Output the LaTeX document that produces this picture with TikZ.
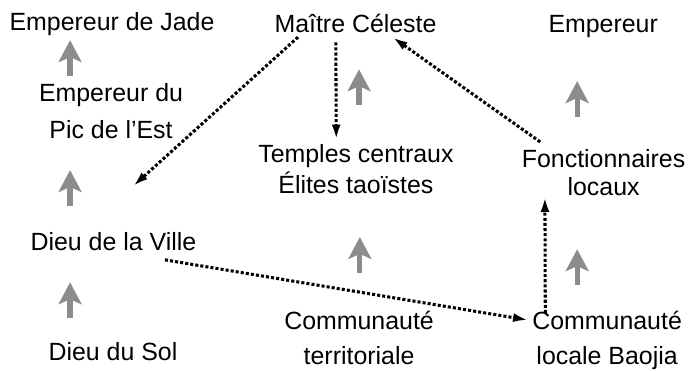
\documentclass[tikz,border=0pt]{standalone}
\usepackage{fontspec}
\setmainfont{Liberation Sans}
\usetikzlibrary{arrows.meta, positioning, calc}
\definecolor{arrgray}{RGB}{140,140,140}

\begin{document}
\begin{tikzpicture}[>=latex, font=\fontsize{18}{22}\selectfont,
    dotarr/.style={-{Latex[length=11pt,width=6.5pt]}, line width=2.2pt, dash pattern=on 2.2pt off 1.5pt},
    grayup/.style={-{Stealth[length=15.8pt,width=16.5pt,inset=3.6pt]}, line width=3.8pt, draw=arrgray}]
    \useasboundingbox (0,0) rectangle (17.5,-9.398);

    \node[anchor=base] (jade) at (2.845,-0.787) {Empereur de Jade};
    \node[anchor=base] (celeste) at (9.03,-0.813) {Maître Céleste};
    \node[anchor=base] (emp) at (15.32,-0.813) {Empereur};

    \node[anchor=north, align=center, font=\fontsize{18}{26.6}\selectfont] (pic-est) at (2.82,-2.0) {Empereur du\\Pic de l’Est};
    \node[anchor=base] (ville) at (2.88,-6.35) {Dieu de la Ville};
    \node[anchor=base] (sol) at (2.87,-9.144) {Dieu du Sol};

    \node[anchor=north, align=center, font=\fontsize{18}{22.3}\selectfont] (temples) at (9.04,-3.55) {Temples centraux\\Élites taoïstes};
    \node[anchor=north, align=center, font=\fontsize{18}{20.2}\selectfont] (fonct) at (15.33,-3.675) {Fonctionnaires\\locaux};

    \node[anchor=north, align=center, font=\fontsize{18}{25.2}\selectfont] (comm-terr) at (9.12,-7.77) {Communauté\\territoriale};
    \node[anchor=north, align=center, font=\fontsize{18}{25.2}\selectfont] (baojia) at (15.42,-7.77) {Communauté\\locale Baojia};

    \foreach \x/\y in {1.78/-1.93, 1.78/-5.23, 1.78/-8.08, 9.12/-2.67, 14.66/-2.97, 9.14/-6.93, 14.66/-7.24} {
        \draw[grayup] (\x,\y) -- ++(0,0.91);
    };

    \draw[dotarr] ([xshift=-1.46cm]celeste.south) -- ([shift={(0.5cm,1.04cm)}]ville.north);
    \draw[dotarr] ([xshift=-0.5cm,yshift=-0.13cm]celeste.south) -- ([xshift=-0.5cm]temples.north);
    \draw[dotarr] ([xshift=-1.61cm,yshift=0.07cm]fonct.north) -- ([xshift=0.94cm]celeste.south);
    \draw[dotarr] ([shift={(1.31cm,-0.12cm)}]ville.south) -- ([shift={(0.02cm,-0.36cm)}]baojia.north west);
    \draw[dotarr] ([shift={(-1.57cm,-0.18cm)}]baojia.north) -- ([shift={(-1.49cm,0.1cm)}]fonct.south);
\end{tikzpicture}
\end{document}
